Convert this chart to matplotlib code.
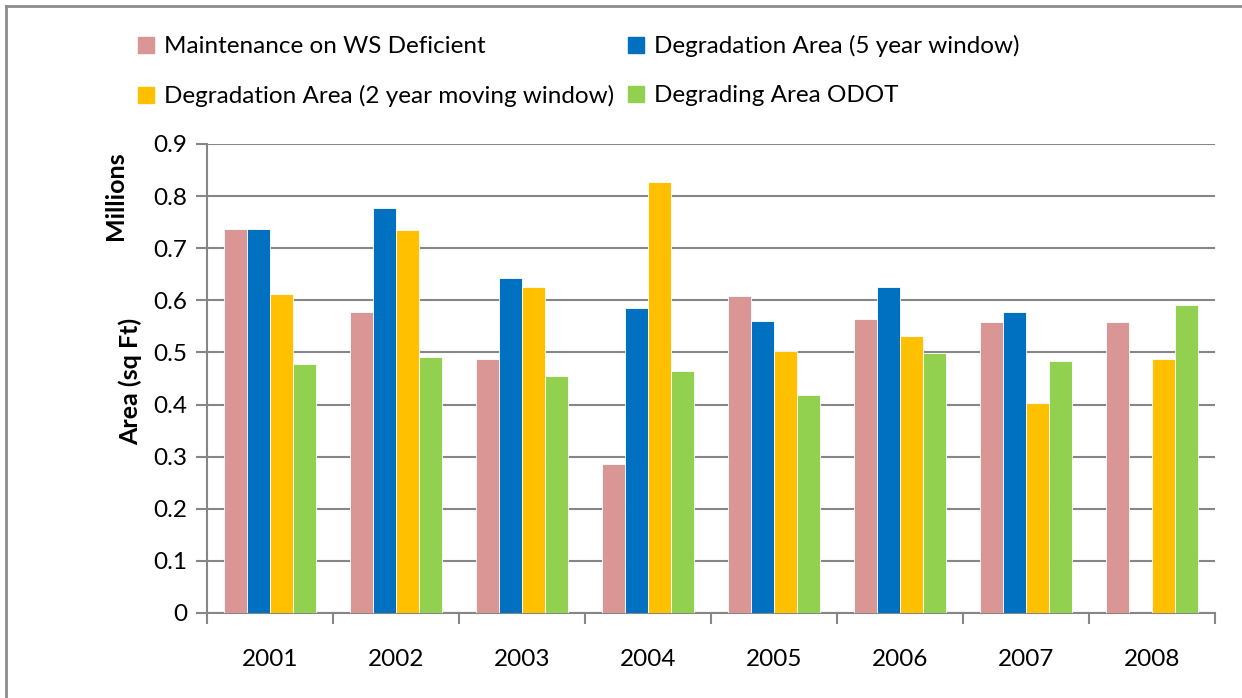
import numpy as np
import matplotlib.pyplot as plt
from matplotlib.lines import Line2D

# Area per year, in millions of sq ft
years = ["2001", "2002", "2003", "2004", "2005", "2006", "2007", "2008"]
maint_ws = [0.737, 0.578, 0.487, 0.285, 0.608, 0.564, 0.558, 0.558]
deg_5yr = [0.737, 0.778, 0.642, 0.585, 0.560, 0.626, 0.577, np.nan]
deg_2yr = [0.612, 0.734, 0.626, 0.828, 0.502, 0.531, 0.403, 0.487]
deg_odot = [0.477, 0.492, 0.454, 0.464, 0.418, 0.498, 0.483, 0.591]

series = [
    ("Maintenance on WS Deficient", maint_ws, "#d99694"),
    ("Degradation Area (5 year window)", deg_5yr, "#0070c0"),
    ("Degradation Area (2 year moving window)", deg_2yr, "#ffc000"),
    ("Degrading Area ODOT", deg_odot, "#92d050"),
]

plt.rcParams["font.family"] = ["Lato", "DejaVu Sans"]
grid_col = "#868686"

fig = plt.figure(figsize=(12.42, 6.98), dpi=100)
ax = fig.add_axes([0.1667, 0.1218, 0.8115, 0.6719])

x = np.arange(len(years))
width = 0.183
for i, (name, vals, col) in enumerate(series):
    ax.bar(x + (i - 1.5) * width, vals, width, color=col,
           edgecolor="white", linewidth=0.6, label=name, zorder=3)

ax.set_xlim(-0.5, len(years) - 0.5)
ax.set_ylim(0, 0.9)
ax.set_yticks(np.arange(0, 0.91, 0.1))
ax.set_yticklabels(["0"] + [f"{v:.1f}" for v in np.arange(0.1, 0.91, 0.1)])
ax.yaxis.grid(True, color=grid_col, linewidth=1.5, zorder=0)

# boundary ticks between years, labels centred under each group
ax.set_xticks(np.arange(-0.5, len(years), 1.0))
ax.set_xticklabels([])
ax.set_xticks(x, minor=True)
ax.set_xticklabels(years, minor=True)
ax.tick_params(axis="x", which="major", direction="out", length=8,
               width=1.5, color=grid_col)
ax.tick_params(axis="x", which="minor", length=0, pad=26, labelsize=17.5)
ax.tick_params(axis="y", direction="out", length=8, width=1.5,
               color=grid_col, labelsize=17.5, pad=6)

for s in ["top", "right"]:
    ax.spines[s].set_visible(False)
for s in ["left", "bottom"]:
    ax.spines[s].set_color(grid_col)
    ax.spines[s].set_linewidth(1.5)

fig.text(0.105, 0.454, "Area (sq Ft)", rotation=90, ha="center", va="center",
         fontsize=18, fontweight="bold")
fig.text(0.093, 0.72, "Millions", rotation=90, ha="center", va="center",
         fontsize=18, fontweight="bold")

# legend: two rows, filled column-wise
order = [0, 2, 1, 3]
handles = [Line2D([0], [0], marker="s", linestyle="none", markersize=11,
                  markerfacecolor=series[k][2], markeredgecolor=series[k][2],
                  label=series[k][0]) for k in order]
fig.legend(handles=handles, ncol=2, loc="upper left",
           bbox_to_anchor=(0.094, 0.981), frameon=False, fontsize=17.5,
           handlelength=0.6, handletextpad=0.45, columnspacing=0.6,
           labelspacing=1.15)

# outer chart frame (top and left edges)
fig.add_artist(Line2D([0.005, 0.005], [0, 0.991], color="#8c8c8c", linewidth=2))
fig.add_artist(Line2D([0.005, 1], [0.991, 0.991], color="#8c8c8c", linewidth=2))

fig.savefig("out.png", dpi=100)
